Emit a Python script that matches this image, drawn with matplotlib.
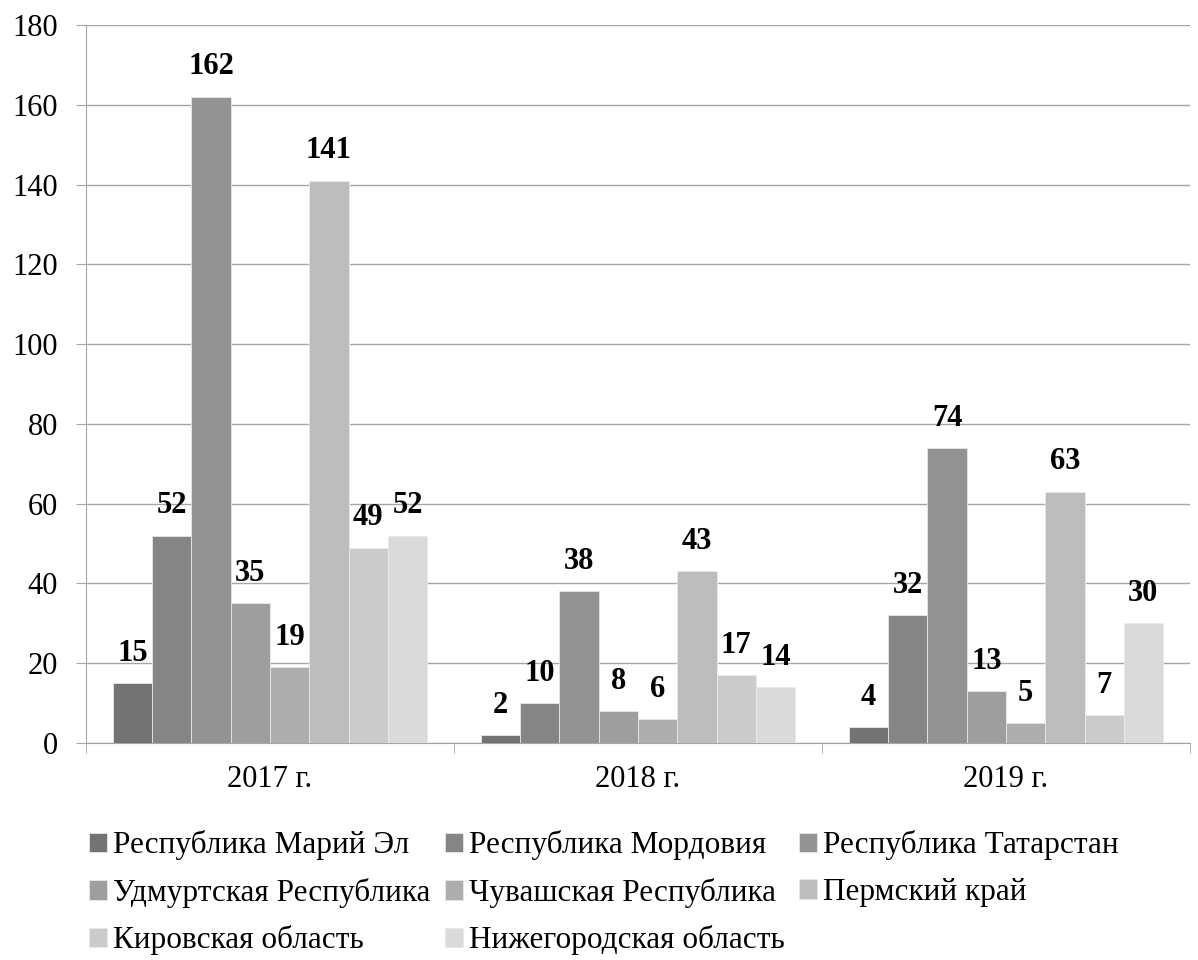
import numpy as np
import matplotlib

matplotlib.use("Agg")
import matplotlib.pyplot as plt

years = ["2017 г.", "2018 г.", "2019 г."]
regions = [
    "Республика Марий Эл",
    "Республика Мордовия",
    "Республика Татарстан",
    "Удмуртская Республика",
    "Чувашская Республика",
    "Пермский край",
    "Кировская область",
    "Нижегородская область",
]
values = [
    [15, 2, 4],
    [52, 10, 32],
    [162, 38, 74],
    [35, 8, 13],
    [19, 6, 5],
    [141, 43, 63],
    [49, 17, 7],
    [52, 14, 30],
]
colors = ["#737373", "#858585", "#939393", "#9e9e9e",
          "#adadad", "#bdbdbd", "#cbcbcb", "#dadada"]

plt.rcParams["font.family"] = ["Liberation Serif", "DejaVu Serif"]

fig = plt.figure(figsize=(11.98, 9.6), dpi=100)
ax = fig.add_axes([0.0718, 0.226, 0.9215, 0.748])

x = np.arange(len(years))
width = 0.1067
n = len(regions)
handles = []
for i, (name, vals) in enumerate(zip(regions, values)):
    pos = x + (i - (n - 1) / 2) * width
    bars = ax.bar(pos, vals, width, color=colors[i], edgecolor="#e8e8e8",
                  linewidth=0.6, label=name, zorder=3)
    handles.append(bars)
    for xp, v in zip(pos, vals):
        ax.annotate(str(v), (xp, v), xytext=(0, 11), textcoords="offset points",
                    ha="center", va="bottom", fontsize=22, fontweight="bold")

ax.set_xlim(-0.5, 2.5)
ax.set_ylim(0, 180)
ax.set_yticks(np.arange(0, 181, 20))
ax.yaxis.grid(True, color="#a6a6a6", linewidth=1.0, zorder=0)
ax.set_xticks(x)
ax.set_xticklabels(years)
ax.set_xticks([-0.5, 0.5, 1.5, 2.5], minor=True)
ax.tick_params(axis="x", which="major", length=0, labelsize=22, pad=16)
ax.tick_params(axis="x", which="minor", length=7.2, color="#a6a6a6")
ax.tick_params(axis="y", length=7.2, color="#a6a6a6", labelsize=22, pad=13)
for side in ["top", "right"]:
    ax.spines[side].set_visible(False)
for side in ["left", "bottom"]:
    ax.spines[side].set_color("#a6a6a6")

order = [0, 3, 6, 1, 4, 7, 2, 5]
fig.legend([handles[k] for k in order], [regions[k] for k in order],
           loc="upper left", bbox_to_anchor=(0.0743, 0.135), ncol=3,
           frameon=False, fontsize=22.5, handlelength=0.58, handleheight=0.58,
           handletextpad=0.19, columnspacing=0.45, labelspacing=0.56,
           borderaxespad=0, borderpad=0)

fig.savefig("out.png", dpi=100)
